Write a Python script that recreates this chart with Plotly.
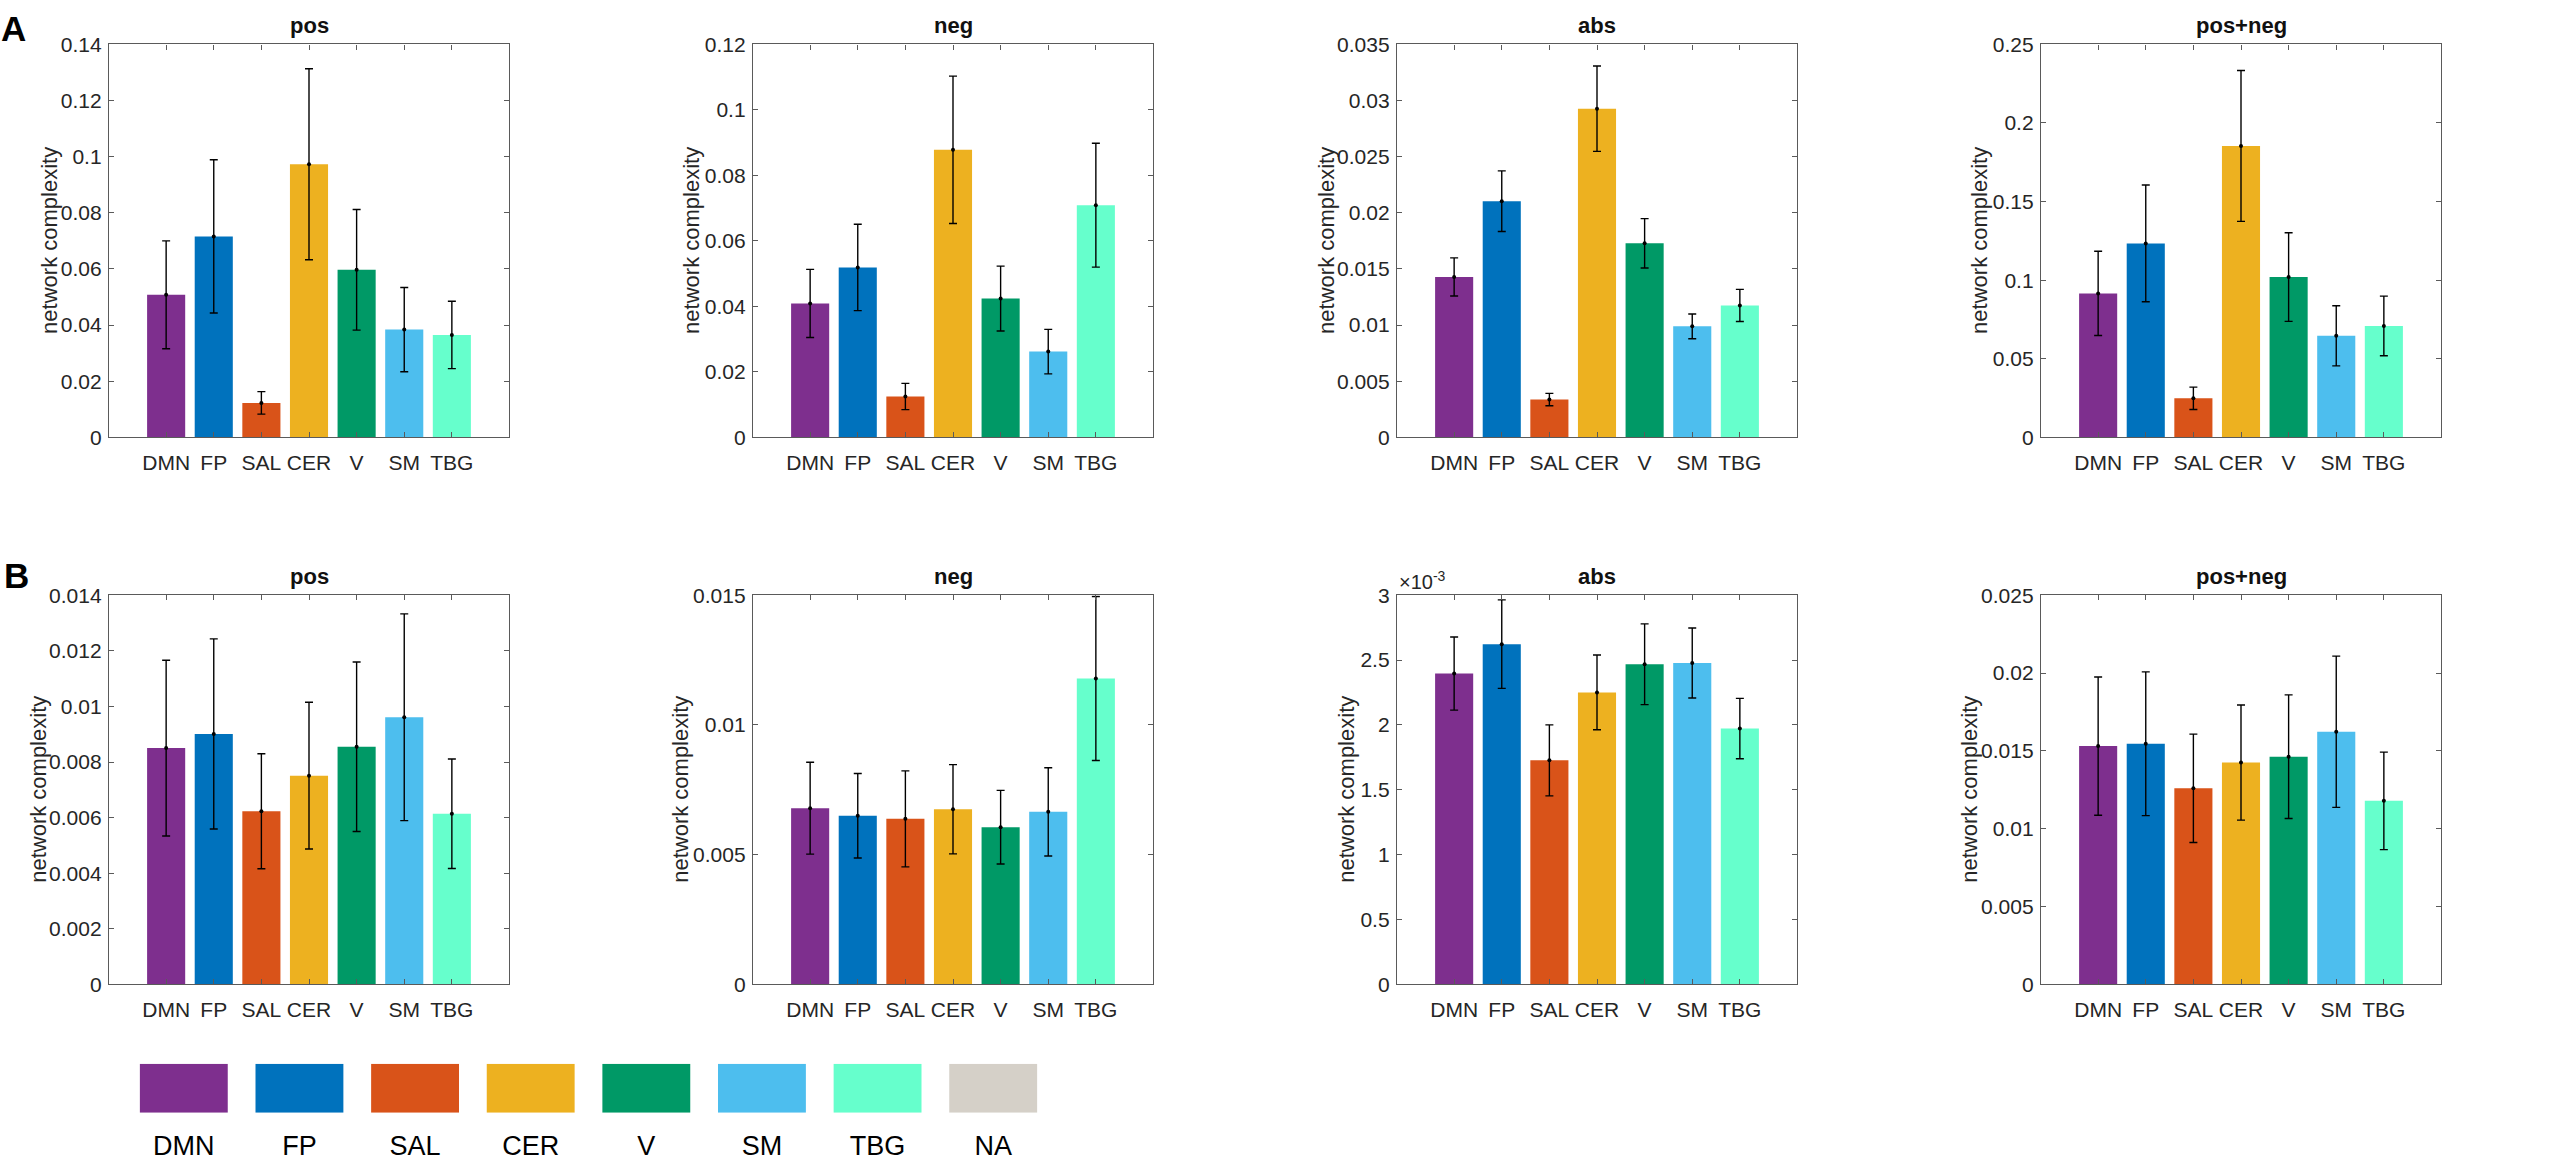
import plotly.graph_objects as go

# ---------------- data ----------------
categories = ["DMN", "FP", "SAL", "CER", "V", "SM", "TBG"]
bar_colors = ["#7E2F8E", "#0072BD", "#D95319", "#EDB120", "#009966", "#4DBEEE", "#66FFCC"]

A_pos = [0.0508, 0.0716, 0.0123, 0.0973, 0.0597, 0.0384, 0.0365]
A_pos_err = [0.0192, 0.0273, 0.0040, 0.0340, 0.0215, 0.0150, 0.0120]
A_neg = [0.0409, 0.0519, 0.0125, 0.0878, 0.0424, 0.0262, 0.0709]
A_neg_err = [0.0104, 0.0132, 0.0040, 0.0225, 0.0099, 0.0068, 0.0189]
A_abs = [0.01429, 0.02103, 0.00337, 0.02927, 0.01728, 0.00989, 0.01175]
A_abs_err = [0.0017, 0.0027, 0.00055, 0.0038, 0.0022, 0.0011, 0.00143]
A_posneg = [0.0916, 0.1234, 0.0249, 0.1854, 0.1020, 0.0646, 0.0709]
A_posneg_err = [0.0268, 0.0371, 0.0071, 0.0480, 0.0282, 0.0191, 0.0190]

B_pos = [0.00850, 0.00901, 0.00623, 0.00751, 0.00855, 0.00961, 0.00614]
B_pos_err = [0.00316, 0.00342, 0.00207, 0.00264, 0.00305, 0.00372, 0.00197]
B_neg = [0.00679, 0.00650, 0.00638, 0.00675, 0.00606, 0.00665, 0.01179]
B_neg_err = [0.00177, 0.00163, 0.00185, 0.00172, 0.00142, 0.00170, 0.00316]
B_abs = [0.002396, 0.002623, 0.001727, 0.002251, 0.002468, 0.002478, 0.001972]
B_abs_err = [0.000282, 0.000341, 0.000274, 0.000288, 0.000311, 0.000270, 0.000233]
B_posneg = [0.01531, 0.01546, 0.01260, 0.01425, 0.01463, 0.01623, 0.01179]
B_posneg_err = [0.00444, 0.00462, 0.00348, 0.00370, 0.00397, 0.00486, 0.00313]

# y tick values and labels
A_pos_ticks = [0, 0.02, 0.04, 0.06, 0.08, 0.10, 0.12, 0.14]
A_pos_labels = ["0", "0.02", "0.04", "0.06", "0.08", "0.1", "0.12", "0.14"]
A_neg_ticks = [0, 0.02, 0.04, 0.06, 0.08, 0.10, 0.12]
A_neg_labels = ["0", "0.02", "0.04", "0.06", "0.08", "0.1", "0.12"]
A_abs_ticks = [0, 0.005, 0.010, 0.015, 0.020, 0.025, 0.030, 0.035]
A_abs_labels = ["0", "0.005", "0.01", "0.015", "0.02", "0.025", "0.03", "0.035"]
A_posneg_ticks = [0, 0.05, 0.10, 0.15, 0.20, 0.25]
A_posneg_labels = ["0", "0.05", "0.1", "0.15", "0.2", "0.25"]
B_pos_ticks = [0, 0.002, 0.004, 0.006, 0.008, 0.010, 0.012, 0.014]
B_pos_labels = ["0", "0.002", "0.004", "0.006", "0.008", "0.01", "0.012", "0.014"]
B_neg_ticks = [0, 0.005, 0.010, 0.015]
B_neg_labels = ["0", "0.005", "0.01", "0.015"]
B_abs_ticks = [0, 0.0005, 0.0010, 0.0015, 0.0020, 0.0025, 0.0030]
B_abs_labels = ["0", "0.5", "1", "1.5", "2", "2.5", "3"]
B_posneg_ticks = [0, 0.005, 0.010, 0.015, 0.020, 0.025]
B_posneg_labels = ["0", "0.005", "0.01", "0.015", "0.02", "0.025"]

panel_titles = ["pos", "neg", "abs", "pos+neg"]
y_title = "network complexity"

legend_names = ["DMN", "FP", "SAL", "CER", "V", "SM", "TBG", "NA"]
legend_colors = ["#7E2F8E", "#0072BD", "#D95319", "#EDB120", "#009966", "#4DBEEE", "#66FFCC", "#D5D0C8"]
legend_swatch = [1, 1, 1, 1, 1, 1, 1, 1]

# ---------------- layout helpers ----------------
W, H = 2560, 1164
FONT = "Liberation Sans, Arial, Helvetica, sans-serif"
AX_COLOR = "#5a5a5a"
TXT_COLOR = "#262626"
col_left = [109, 753, 1397, 2041]
panel_w = 400
row_top = [33, 595]
panel_h = [401, 397]
ytitle_shift = [[-59, -61, -70, -61], [-70, -72, -50, -71]]

panels = [
    (0, 0, A_pos, A_pos_err, A_pos_ticks, A_pos_labels),
    (0, 1, A_neg, A_neg_err, A_neg_ticks, A_neg_labels),
    (0, 2, A_abs, A_abs_err, A_abs_ticks, A_abs_labels),
    (0, 3, A_posneg, A_posneg_err, A_posneg_ticks, A_posneg_labels),
    (1, 0, B_pos, B_pos_err, B_pos_ticks, B_pos_labels),
    (1, 1, B_neg, B_neg_err, B_neg_ticks, B_neg_labels),
    (1, 2, B_abs, B_abs_err, B_abs_ticks, B_abs_labels),
    (1, 3, B_posneg, B_posneg_err, B_posneg_ticks, B_posneg_labels),
]

fig = go.Figure()
layout = {}
annotations = []

for idx, (r, c, vals, errs, ticks, labels) in enumerate(panels, start=1):
    sfx = "" if idx == 1 else str(idx)
    xa, ya = "x" + sfx, "y" + sfx
    left = col_left[c]
    top = row_top[r]
    x0, x1 = left / W, (left + panel_w) / W
    y1, y0 = 1 - top / H, 1 - (top + panel_h[r]) / H

    fig.add_trace(go.Bar(
        x=categories, y=vals, marker=dict(color=bar_colors, line=dict(width=0)),
        width=0.8, xaxis=xa, yaxis=ya, showlegend=False, hoverinfo="x+y"))
    fig.add_trace(go.Scatter(
        x=categories, y=vals, mode="markers",
        marker=dict(color="black", size=4),
        error_y=dict(type="data", array=errs, color="black", thickness=1.4, width=4),
        xaxis=xa, yaxis=ya, showlegend=False, hoverinfo="skip"))

    common = dict(showline=True, linecolor=AX_COLOR, linewidth=1.4, mirror="ticks",
                  ticks="inside", ticklen=5, tickcolor=AX_COLOR, tickwidth=1.2,
                  showgrid=False, zeroline=False, fixedrange=True,
                  tickfont=dict(family=FONT, size=21, color=TXT_COLOR))
    layout["xaxis" + sfx] = dict(domain=[x0, x1], anchor=ya, range=[-1.2, 7.2],
                                 type="category", tickangle=0, ticklabelstandoff=6, **common)
    layout["yaxis" + sfx] = dict(domain=[y0, y1], anchor=xa, range=[0, ticks[-1]],
                                 tickvals=ticks, ticktext=labels, ticklabelstandoff=2, **common)

    annotations.append(dict(text="<b>" + panel_titles[c] + "</b>", x=(x0 + x1) / 2, y=y1,
                            xref="paper", yref="paper", xanchor="center", yanchor="bottom",
                            yshift=4, showarrow=False,
                            font=dict(family=FONT, size=22, color="#111111")))
    annotations.append(dict(text=y_title, textangle=-90, x=x0, y=(y0 + y1) / 2,
                            xref="paper", yref="paper", xanchor="center", yanchor="middle",
                            xshift=ytitle_shift[r][c], showarrow=False,
                            font=dict(family=FONT, size=22, color=TXT_COLOR)))

# x10^-3 exponent label for B abs panel
annotations.append(dict(text="×10<sup>-3</sup>", x=col_left[2] / W, y=1 - row_top[1] / H,
                        xref="paper", yref="paper", xanchor="left", yanchor="bottom",
                        yshift=0, showarrow=False,
                        font=dict(family=FONT, size=20, color=TXT_COLOR)))

# panel letters
for letter, px, py in [("A", 13, 17), ("B", 16, 575)]:
    annotations.append(dict(text="<b>" + letter + "</b>", x=px / W, y=1 - py / H,
                            xref="paper", yref="paper", xanchor="center", yanchor="middle",
                            showarrow=False, font=dict(family=FONT, size=35, color="black")))

# colour legend drawn as a small bar chart
fig.add_trace(go.Bar(x=legend_names, y=legend_swatch,
                     marker=dict(color=legend_colors, line=dict(width=0)),
                     width=0.76, xaxis="x9", yaxis="y9", showlegend=False, hoverinfo="x"))
layout["xaxis9"] = dict(domain=[126 / W, 1051 / W], anchor="y9", type="category",
                        range=[-0.5, 7.5], showline=False, ticks="", showgrid=False,
                        zeroline=False, fixedrange=True, tickangle=0, ticklabelstandoff=14,
                        tickfont=dict(family=FONT, size=27, color="black"))
layout["yaxis9"] = dict(domain=[1 - 1123 / H, 1 - 1073 / H], anchor="x9", range=[0, 1],
                        visible=False, fixedrange=True)

fig.update_layout(width=W, height=H, margin=dict(l=0, r=0, t=0, b=0),
                  plot_bgcolor="white", paper_bgcolor="white", showlegend=False,
                  annotations=annotations, **layout)

fig.write_html("out.html", config={"displayModeBar": False},
               post_script="document.body.style.margin='0';document.body.style.overflow='hidden';")
